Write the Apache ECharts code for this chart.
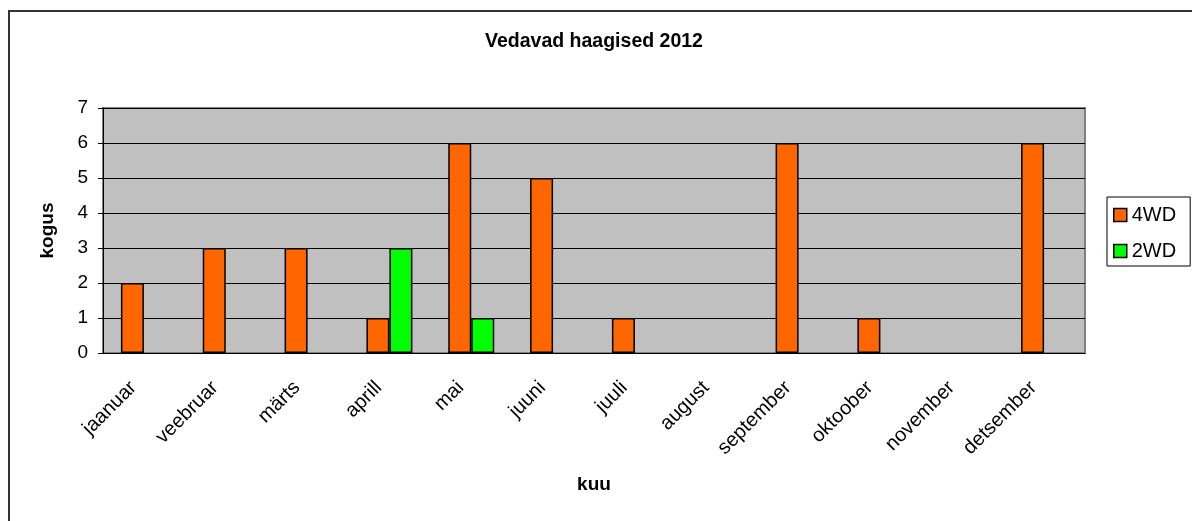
<!DOCTYPE html>
<html>
<head>
<meta charset="utf-8">
<script src="https://cdn.jsdelivr.net/npm/echarts@6/dist/echarts.min.js"></script>
<style>
  html, body { margin: 0; padding: 0; background: #fff; }
</style>
</head>
<body>
<div id="chart" style="width:1192px;height:521px;"></div>
<script>
// andmed
var months = ['jaanuar', 'veebruar', 'märts', 'aprill', 'mai', 'juuni', 'juuli', 'august', 'september', 'oktoober', 'november', 'detsember'];
var fourWD = [2, 3, 3, 1, 6, 5, 1, 0, 6, 1, 0, 6];
var twoWD = [0, 0, 0, 3, 1, 0, 0, 0, 0, 0, 0, 0];
var yTicks = [0, 1, 2, 3, 4, 5, 6, 7];

var font = 'Liberation Sans, Arial, sans-serif';
var chart = echarts.init(document.getElementById('chart'));

// nullväärtusi ei joonistata (Excelis tühi koht)
function hideZero(arr) {
    return arr.map(function (v) { return v === 0 ? '-' : v; });
}

chart.setOption({
    animation: false,
    title: {
        text: 'Vedavad haagised 2012',
        left: 589,
        top: 27,
        textAlign: 'center',
        textStyle: { fontFamily: font, fontSize: 19.5, fontWeight: 'bold', color: '#000' }
    },
    // raam ümber diagrammi
    graphic: [{
        type: 'rect',
        shape: { x: 9, y: 11, width: 1200, height: 600 },
        style: { fill: 'none', stroke: '#333', lineWidth: 2 },
        silent: true
    }],
    legend: {
        orient: 'vertical',
        left: 1107,
        top: 197,
        padding: [8, 14, 5, 6],
        itemGap: 16,
        itemWidth: 13,
        itemHeight: 13,
        icon: 'rect',
        borderColor: '#000',
        borderWidth: 1,
        itemStyle: { borderColor: '#000', borderWidth: 1.5 },
        textStyle: { fontFamily: font, fontSize: 20, color: '#000' },
        data: ['4WD', '2WD']
    },
    grid: {
        left: 103,
        right: 107,
        top: 108,
        bottom: 168,
        show: true,
        backgroundColor: '#C0C0C0',
        borderColor: '#808080',
        borderWidth: 2
    },
    xAxis: {
        type: 'category',
        data: months,
        name: 'kuu',
        nameLocation: 'middle',
        nameGap: 122,
        nameTextStyle: { fontFamily: font, fontSize: 19, fontWeight: 'bold', color: '#000' },
        axisLine: { lineStyle: { color: '#000', width: 1 } },
        axisTick: { length: 5, lineStyle: { color: '#000' } },
        axisLabel: {
            rotate: 45, margin: 21, fontFamily: font, fontSize: 20, color: '#000',
            padding: [0, 15, 0, 0]
        }
    },
    yAxis: {
        type: 'value',
        min: 0,
        max: 7,
        interval: 1,
        name: 'kogus',
        nameLocation: 'middle',
        nameGap: 46,
        nameTextStyle: { fontFamily: font, fontSize: 19, fontWeight: 'bold', color: '#000' },
        axisLine: { show: true, lineStyle: { color: '#000', width: 1 } },
        axisTick: { show: true, length: 5, lineStyle: { color: '#000' } },
        axisLabel: {
            margin: 15, fontFamily: font, fontSize: 19, color: '#000',
            formatter: function (v) { return yTicks.indexOf(v) >= 0 ? String(v) : ''; }
        },
        splitLine: { lineStyle: { color: '#000', width: 1 } }
    },
    series: [
        {
            name: '4WD',
            type: 'bar',
            data: hideZero(fourWD),
            barWidth: 23,
            barGap: '0%',
            itemStyle: { color: '#FF6600', borderColor: '#000', borderWidth: 1.5 }
        },
        {
            name: '2WD',
            type: 'bar',
            data: hideZero(twoWD),
            barWidth: 23,
            barGap: '0%',
            itemStyle: { color: '#00FF00', borderColor: '#000', borderWidth: 1.5 }
        }
    ]
});
</script>
</body>
</html>
